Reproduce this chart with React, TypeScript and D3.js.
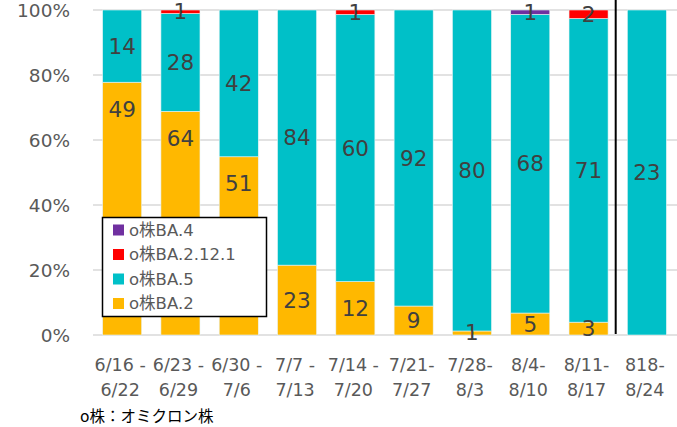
import * as d3 from "d3";

const weeks = [
  ["6/16 -", "6/22"],
  ["6/23 -", "6/29"],
  ["6/30 -", "7/6"],
  ["7/7 -", "7/13"],
  ["7/14 -", "7/20"],
  ["7/21-", "7/27"],
  ["7/28-", "8/3"],
  ["8/4-", "8/10"],
  ["8/11-", "8/17"],
  ["818-", "8/24"],
];

// counts per week, stacked bottom -> top
const ba2 = [49, 64, 51, 23, 12, 9, 1, 5, 3, 0];
const ba5 = [14, 28, 42, 84, 60, 92, 80, 68, 71, 23];
const ba2121 = [0, 1, 0, 0, 1, 0, 0, 0, 2, 0];
const ba4 = [0, 0, 0, 0, 0, 0, 0, 1, 0, 0];

const seriesNames = ["o株BA.2", "o株BA.5", "o株BA.2.12.1", "o株BA.4"];
const seriesColors = ["#FFB800", "#00C0C8", "#FF0000", "#7030A0"];
const yTicks = [0, 0.2, 0.4, 0.6, 0.8, 1];

const W = 677;
const H = 427;
const margin = { top: 10, right: 1, bottom: 92, left: 93 };
const font = "'DejaVu Sans', 'Noto Sans CJK JP', sans-serif";

export default function App() {
  const series = [ba2, ba5, ba2121, ba4];
  const rows = weeks.map((w, i) => {
    const vals = series.map((s) => s[i]);
    const total = d3.sum(vals);
    return { key: w.join(""), i, vals, total };
  });

  const x = d3
    .scaleBand<number>()
    .domain(rows.map((r) => r.i))
    .range([margin.left, W - margin.right])
    .paddingInner(0.33)
    .paddingOuter(0.165);

  const y = d3
    .scaleLinear()
    .domain([0, 1])
    .range([H - margin.bottom, margin.top]);

  const stack = d3
    .stack<any, number>()
    .keys([0, 1, 2, 3])
    .value((d, k) => d.vals[k] / d.total);
  const stacked = stack(rows);

  // divider between the last week and the previous ones
  const dividerX = (x(8)! + x.bandwidth() + x(9)!) / 2 - 2;

  return (
    <svg
      width={W}
      height={H}
      style={{ position: "fixed", left: 0, top: 0, background: "#fff" }}
      fontFamily={font}
    >
      {/* grid + y axis */}
      {yTicks.map((t) => (
        <g key={t}>
          <line
            x1={margin.left}
            x2={W}
            y1={y(t)}
            y2={y(t)}
            stroke="#d9d9d9"
            strokeWidth={1.5}
          />
          <text
            x={70}
            y={y(t)}
            textAnchor="end"
            dominantBaseline="central"
            fontSize={18.5}
            fill="#595959"
          >
            {Math.round(t * 100)}%
          </text>
        </g>
      ))}

      {/* bars */}
      {stacked.map((layer, k) => (
        <g key={k}>
          {layer.map((d, i) =>
            d[1] - d[0] > 0 ? (
              <rect
                key={i}
                x={x(i)}
                width={x.bandwidth()}
                y={y(d[1])}
                height={y(d[0]) - y(d[1])}
                fill={seriesColors[k]}
                stroke="#e8f4f4"
                strokeWidth={0.6}
              />
            ) : null
          )}
        </g>
      ))}

      {/* divider */}
      <line
        x1={dividerX}
        x2={dividerX}
        y1={0}
        y2={y(0) - 1}
        stroke="#000"
        strokeWidth={2}
      />

      {/* data labels */}
      {stacked.map((layer, k) => (
        <g key={"l" + k}>
          {layer.map((d, i) => {
            const v = rows[i].vals[k];
            if (!v) return null;
            let cy = (y(d[0]) + y(d[1])) / 2;
            // big yellow segments sit behind the legend: label moved up
            if (k === 0 && d[1] - d[0] > 0.4) cy = y(d[1]) + 27;
            return (
              <text
                key={i}
                x={x(i)! + x.bandwidth() / 2}
                y={cy}
                textAnchor="middle"
                dominantBaseline="central"
                fontSize={21.5}
                fill="#404040"
              >
                {v}
              </text>
            );
          })}
        </g>
      ))}

      {/* x labels */}
      {weeks.map((w, i) => (
        <text
          key={i}
          x={x(i)! + x.bandwidth() / 2 - 2}
          textAnchor="middle"
          fontSize={17.5}
          fill="#595959"
        >
          <tspan x={x(i)! + x.bandwidth() / 2 - 2} y={371}>
            {w[0]}
          </tspan>
          <tspan x={x(i)! + x.bandwidth() / 2 - 2} y={396}>
            {w[1]}
          </tspan>
        </text>
      ))}

      {/* legend */}
      <g>
        <rect
          x={102.5}
          y={217.5}
          width={164}
          height={99}
          fill="#fff"
          stroke="#000"
          strokeWidth={1.5}
        />
        {[3, 2, 1, 0].map((k, j) => (
          <g key={k} transform={`translate(113,${230 + j * 24.5})`}>
            <rect x={0} y={-5.5} width={11} height={11} fill={seriesColors[k]} />
            <text
              x={16}
              y={0}
              dominantBaseline="central"
              fontSize={16.5}
              fill="#595959"
            >
              {seriesNames[k]}
            </text>
          </g>
        ))}
      </g>

      {/* footnote */}
      <text x={80} y={422} fontSize={15.5} fill="#000">
        o株：オミクロン株
      </text>
    </svg>
  );
}
